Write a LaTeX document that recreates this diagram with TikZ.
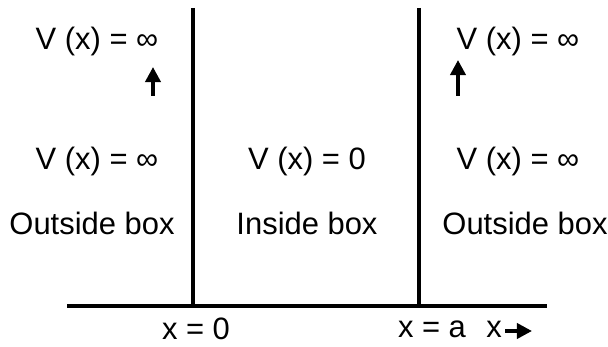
\documentclass[tikz,border=0pt]{standalone}
\usepackage{fontspec}
\setmainfont{Liberation Sans}
\usetikzlibrary{arrows.meta,positioning}
\tikzset{lbl/.style={font=\fontsize{22}{26}\selectfont,inner sep=0pt,anchor=base},wall/.style={line width=2.2pt,draw=black},up/.style={-{Triangle[length=3.8mm,width=3.8mm]},line width=2.6pt}}

\begin{document}
\begin{tikzpicture}[x=0.025cm,y=-0.025cm]
\useasboundingbox (0,0) rectangle (608,347);
% walls and axis
\coordinate (ltop) at (193,8);\coordinate (lbot) at (193,306);
\coordinate (rtop) at (419,8);\coordinate (rbot) at (419,306);
\coordinate (axl) at (67,306);\coordinate (axr) at (547,306);
\draw[wall] (ltop)--(lbot);\draw[wall] (rtop)--(rbot);
\draw[wall] (axl)--(axr);
% potential labels
\node[lbl] (vtl) at (97,50) {V (x) = ∞};
\node[lbl] (vtr) at (518,50) {V (x) = ∞};
\node[lbl] (vml) at (97,170) {V (x) = ∞};
\node[lbl] (vin) at (307,170) {V (x) = 0};
\node[lbl] (vmr) at (518,170) {V (x) = ∞};
\node[lbl] (outl) at (92,235) {Outside box};
\node[lbl] (insd) at (307,235) {Inside box};
\node[lbl] (outr) at (525,235) {Outside box};
\node[lbl] (x0) at (196,340) {x = 0};
\node[lbl] (xa) at (432,338) {x = a};
\node[lbl] (xx) at (494,338) {x};
% arrows
\coordinate (al0) at (153,96);\coordinate (al1) at (153,67);
\coordinate (ar0) at (458,96);\coordinate (ar1) at (458,60);
\draw[up] (al0)--(al1);\draw[up] (ar0)--(ar1);
\coordinate (ax0) at (505,331);
\draw[up] (ax0)--++(27,0);
\end{tikzpicture}
\end{document}
